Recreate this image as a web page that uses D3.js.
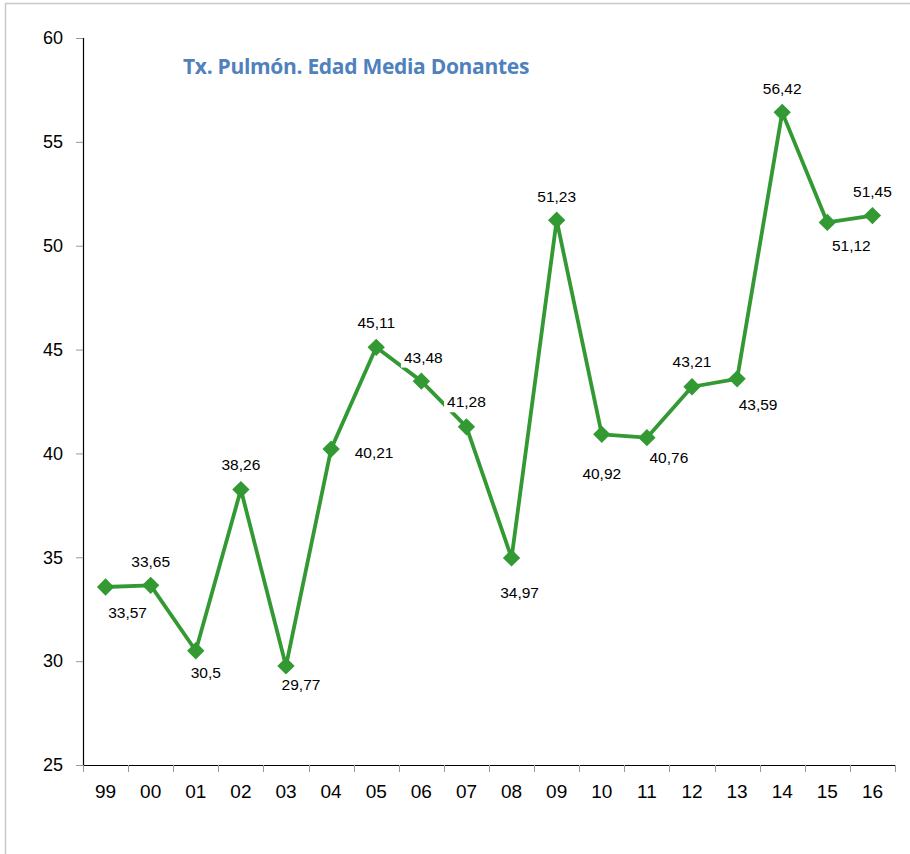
<!DOCTYPE html>
<html><head><meta charset="utf-8">
<script src="https://cdn.jsdelivr.net/npm/d3@7"></script>
<style>body{margin:0;background:#fff}svg{display:block}</style>
</head><body>
<svg id="c" width="910" height="854"></svg>
<script>
const years = ["99","00","01","02","03","04","05","06","07","08","09","10","11","12","13","14","15","16"];
const values = [33.57,33.65,30.5,38.26,29.77,40.21,45.11,43.48,41.28,34.97,51.23,40.92,40.76,43.21,43.59,56.42,51.12,51.45];
const labels = ["33,57","33,65","30,5","38,26","29,77","40,21","45,11","43,48","41,28","34,97","51,23","40,92","40,76","43,21","43,59","56,42","51,12","51,45"];
const yTicks = [25,30,35,40,45,50,55,60];
const title = "Tx. Pulmón. Edad Media Donantes";

(function(){
// label placement (layout only): offsets from each point
const labelOffsets = [[22,26],[0,-24],[10,22],[0,-25],[15,19],[43,4],[0,-25],[2,-24],[0,-25],[8,35],[0,-24],[0,39],[22,20],[0,-25],[21,26],[0,-24],[24,23],[0,-24]];

const svg = d3.select("#c");
svg.append("rect").attr("x",5.5).attr("y",3.5).attr("width",1000).attr("height",1000)
  .attr("fill","none").attr("stroke","#c8c8c8").attr("stroke-width",1.5);

const pL=83, pR=895, pT=38, pB=765;
const x = d3.scaleBand().domain(years).range([pL,pR]);
const y = d3.scaleLinear().domain([25,60]).range([pB,pT]);

const ya = svg.append("g").attr("transform",`translate(${pL},0)`)
  .call(d3.axisLeft(y).tickValues(yTicks).tickSize(7).tickPadding(13).tickFormat(d3.format("d")));
ya.select(".domain").attr("stroke","#000").attr("stroke-width",1.2).attr("d",`M0.5,${pT}V${pB}`);
ya.selectAll(".tick line").attr("stroke","#999");
ya.selectAll("text").attr("font-family","Liberation Sans, Arial, sans-serif").attr("font-size",18).attr("fill","#000");

const xa = svg.append("g").attr("transform",`translate(0,${pB})`)
  .call(d3.axisBottom(x).tickSize(0).tickPadding(20));
xa.select(".domain").attr("stroke","#000").attr("stroke-width",1.2).attr("d",`M${pL},0.5H${pR}`);
xa.selectAll("text").attr("font-family","Liberation Sans Narrow, Arial Narrow, sans-serif").attr("font-size",19).attr("fill","#000");
const bounds = years.map(d=>x(d)).concat([pR]);
svg.append("g").selectAll("line").data(bounds).join("line")
  .attr("x1",d=>Math.round(d)+0.5).attr("x2",d=>Math.round(d)+0.5)
  .attr("y1",pB).attr("y2",pB+7).attr("stroke","#999");

svg.append("text").attr("x",183).attr("y",74).text(title)
  .attr("font-family","Open Sans, Noto Sans, sans-serif").attr("font-weight","bold")
  .attr("font-size",21).attr("fill","#4f81bd").attr("letter-spacing",-0.3);

const cx = d => x(d)+x.bandwidth()/2;
const green = "#339933";
const line = d3.line().x((d,i)=>cx(years[i])).y(d=>y(d));
svg.append("path").datum(values).attr("d",line).attr("fill","none")
  .attr("stroke",green).attr("stroke-width",3.8).attr("stroke-linejoin","round");

svg.append("g").selectAll("path").data(values).join("path")
  .attr("d",d3.symbol(d3.symbolSquare, 150)())
  .attr("transform",(d,i)=>`translate(${cx(years[i])},${y(d)}) rotate(45)`)
  .attr("fill",green);

const lg = svg.append("g");
values.forEach((v,i)=>{
  const px = cx(years[i]), py = y(v);
  const tx = px + labelOffsets[i][0], ty = py + labelOffsets[i][1];
  const t = lg.append("text").attr("x",tx).attr("y",ty).attr("dy","0.35em")
    .attr("text-anchor","middle").text(labels[i])
    .attr("font-family","Liberation Sans, Arial, sans-serif").attr("font-size",15.5).attr("fill","#000");
  const bb = t.node().getBBox();
  lg.insert("rect","text").attr("x",bb.x-3).attr("y",bb.y-2).attr("width",bb.width+6).attr("height",bb.height+4).attr("fill","#fff");
});
})();
</script>
</body></html>
